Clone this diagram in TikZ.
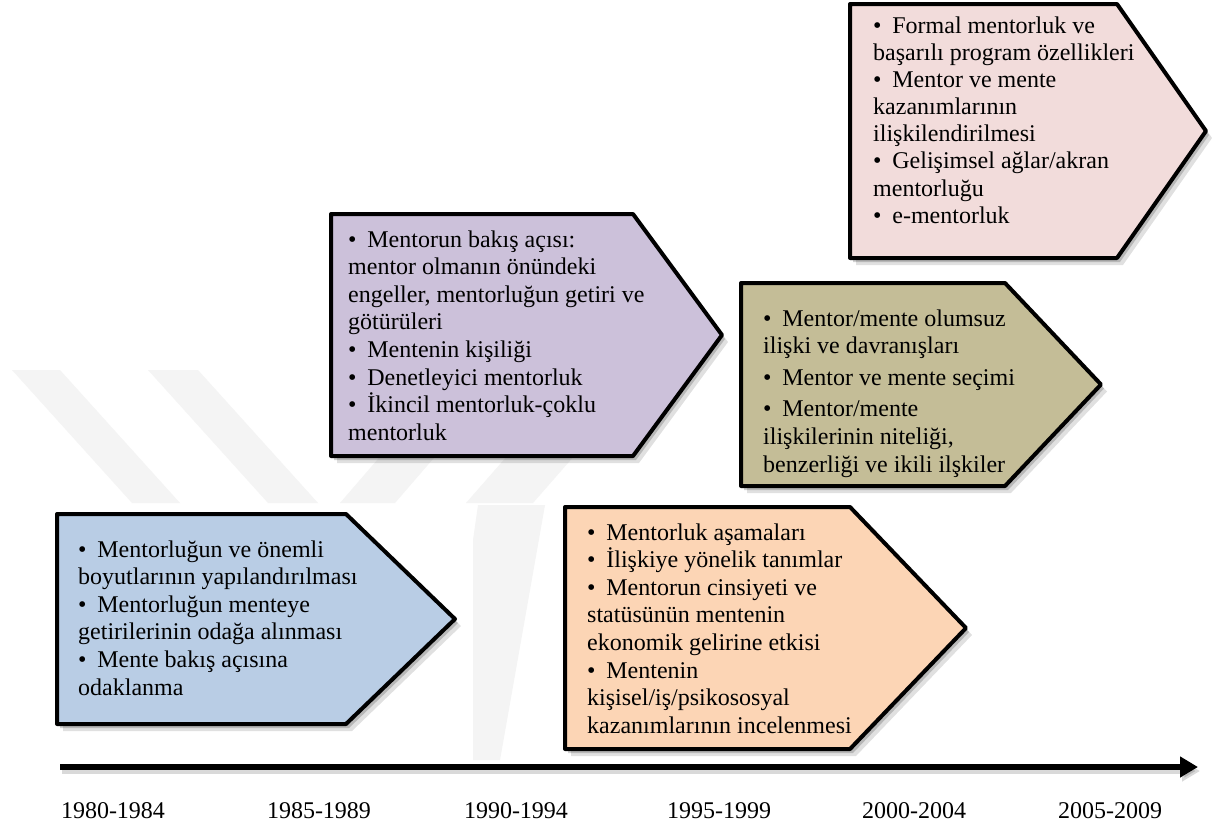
\documentclass[tikz,border=0pt]{standalone}
\usepackage{fontspec}
\setmainfont{Liberation Serif}
\usetikzlibrary{arrows.meta}
\definecolor{cblue}{HTML}{B9CDE5}
\definecolor{cpurple}{HTML}{CCC1DA}
\definecolor{colive}{HTML}{C4BD97}
\definecolor{cpink}{HTML}{F2DCDB}
\definecolor{corange}{HTML}{FCD5B5}
\definecolor{wmgray}{HTML}{F4F4F4}
\newcommand\tlbul{\textbullet\hspace{0.45em}}
% #1 fill, #2 left, #3 top, #4 bottom, #5 corner x, #6 tip x
\newcommand\pentbox[6]{%
  \fill[black, opacity=0.12] ({#2+6},{#3+7}) -- ({#5+6},{#3+7}) -- ({#6+6},{(#3+#4)/2+7}) -- ({#5+6},{#4+7}) -- ({#2+6},{#4+7}) -- cycle;
  \fill[black, opacity=0.18] ({#2+3},{#3+4}) -- ({#5+3},{#3+4}) -- ({#6+3},{(#3+#4)/2+4}) -- ({#5+3},{#4+4}) -- ({#2+3},{#4+4}) -- cycle;
  \draw[box, fill=#1] (#2,#3) -- (#5,#3) -- (#6,{(#3+#4)/2}) -- (#5,#4) -- (#2,#4) -- cycle;}
\begin{document}
\begin{tikzpicture}[x=1pt,y=-1pt,
  box/.style={draw=black, line width=4pt, line join=round},
  txt/.style={anchor=base west, inner sep=0pt, font=\fontsize{24}{27.6}\selectfont},
  yr/.style={anchor=base, inner sep=0pt, font=\fontsize{24}{27.6}\selectfont},
  wm/.style={fill=wmgray, draw=none}]
\useasboundingbox[fill=white] (0,0) rectangle (1219,827);
% faint watermark
\fill[wm] (12,370) -- (60,370) -- (180,503) -- (132,503) -- cycle;
\fill[wm] (148,370) -- (198,370) -- (318,503) -- (268,503) -- cycle;
\fill[wm] (340,503) -- (395,503) -- (458,430) -- (403,430) -- cycle;
\fill[wm] (466,503) -- (533,503) -- (575,455) -- (508,455) -- cycle;
\fill[wm] (478,505) -- (545,505) -- (500,760) -- (473,760) -- (473,540) -- cycle;
% boxes
\pentbox{cblue}{57}{514}{724}{346}{455}
\pentbox{cpurple}{331}{214}{456}{633}{722}
\pentbox{colive}{741}{283}{486}{1005}{1101}
\pentbox{cpink}{850}{4}{258}{1117}{1206}
\pentbox{corange}{565}{507}{749}{850}{966}
% texts
\node[txt] (t1) at (78,557) {\parbox[t]{300pt}{\fontsize{24}{27.6}\selectfont\raggedright
\tlbul Mentorluğun ve önemli\\
boyutlarının yapılandırılması\\
\tlbul Mentorluğun menteye\\
getirilerinin odağa alınması\\
\tlbul Mente bakış açısına\\
odaklanma}};
\node[txt] (t2) at (348,247) {\parbox[t]{320pt}{\fontsize{24}{27.6}\selectfont\raggedright
\tlbul Mentorun bakış açısı:\\
mentor olmanın önündeki\\
engeller, mentorluğun getiri ve\\
götürüleri\\
\tlbul Mentenin kişiliği\\
\tlbul Denetleyici mentorluk\\
\tlbul İkincil mentorluk-çoklu\\
mentorluk}};
\node[txt] (t5) at (587,540) {\parbox[t]{320pt}{\fontsize{24}{27.6}\selectfont\raggedright
\tlbul Mentorluk aşamaları\\
\tlbul İlişkiye yönelik tanımlar\\
\tlbul Mentorun cinsiyeti ve\\
statüsünün mentenin\\
ekonomik gelirine etkisi\\
\tlbul Mentenin\\
kişisel/iş/psikososyal\\
kazanımlarının incelenmesi}};
\node[txt] (t3) at (763,326) {\parbox[t]{320pt}{\fontsize{24}{27.6}\selectfont\raggedright
\tlbul Mentor/mente olumsuz\\
ilişki ve davranışları\\[4pt]
\tlbul Mentor ve mente seçimi\\[4pt]
\tlbul Mentor/mente\\
ilişkilerinin niteliği,\\
benzerliği ve ikili ilşkiler}};
\node[txt] (t4) at (873,33) {\parbox[t]{320pt}{\fontsize{24}{27.2}\selectfont\raggedright
\tlbul Formal mentorluk ve\\
başarılı program özellikleri\\
\tlbul Mentor ve mente\\
kazanımlarının\\
ilişkilendirilmesi\\
\tlbul Gelişimsel ağlar/akran\\
mentorluğu\\
\tlbul e-mentorluk}};
% timeline
\coordinate (a0) at (60,767);
\coordinate (a1) at (1198,767);
\draw[line width=6pt, black, opacity=0.15, -{Triangle[length=18pt,width=20pt]}] ([shift={(2,4)}]a0) -- ([shift={(2,4)}]a1);
\draw[line width=6pt, black, -{Triangle[length=18pt,width=20pt]}] (a0) -- (a1);
\node[yr] (y1) at (113,818) {1980-1984};
\node[yr] (y2) at (319,818) {1985-1989};
\node[yr] (y3) at (516,818) {1990-1994};
\node[yr] (y4) at (719,818) {1995-1999};
\node[yr] (y5) at (914,818) {2000-2004};
\node[yr] (y6) at (1110,818) {2005-2009};
\end{tikzpicture}
\end{document}
